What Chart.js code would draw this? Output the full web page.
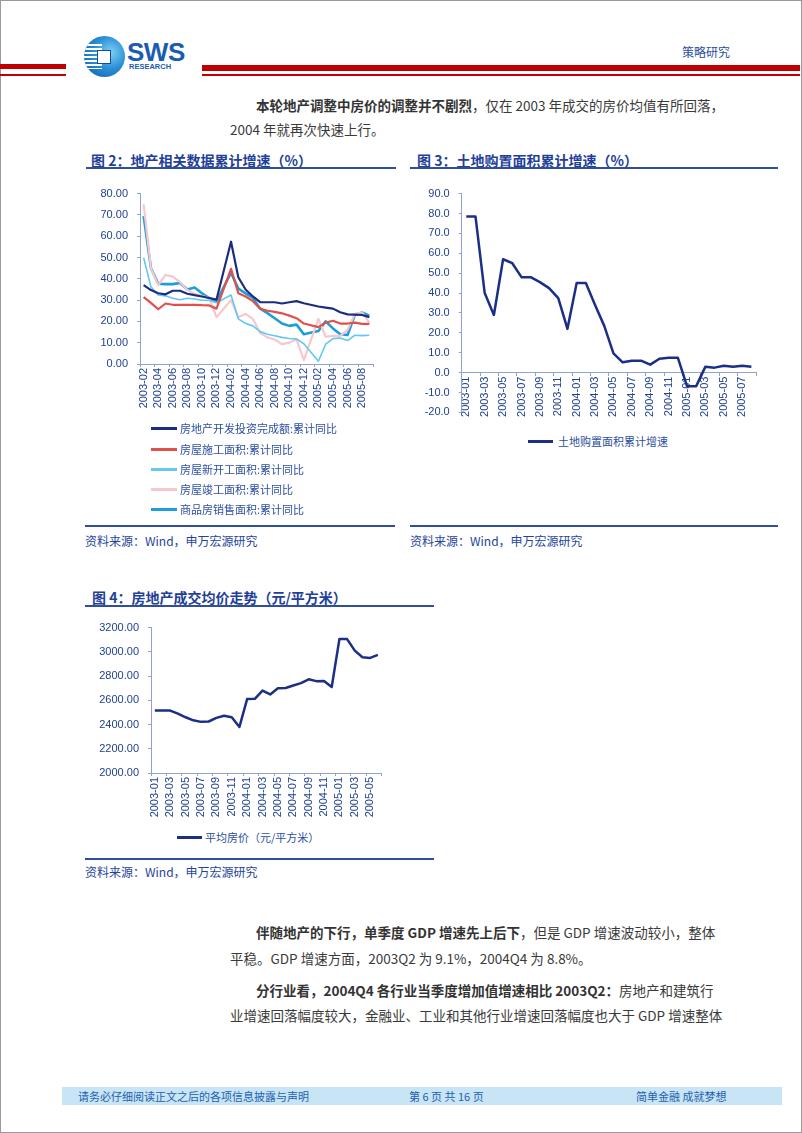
<!DOCTYPE html>
<html><head><meta charset="utf-8">
<script src="https://cdn.jsdelivr.net/npm/chart.js@4.4.0/dist/chart.umd.min.js"></script>
<style>
html,body{margin:0;padding:0}
body{width:802px;height:1133px;position:relative;background:#fff;overflow:hidden;font-family:"Noto Sans CJK SC","Noto Sans",sans-serif}
.t{position:absolute;white-space:nowrap;line-height:20px;height:20px}
.p{font-size:13.5px;color:#3a3a3a}
.p b{font-weight:bold;color:#333}
.ttl{font-size:14px;font-weight:bold;color:#1f3f99}
.rule{position:absolute;height:2px;background:#2e4f9f}
.src{font-size:12px;color:#24449a}
.lg{font-size:11px;color:#2c4fa0}
.lgl{position:absolute;height:2.5px}
canvas{position:absolute}
.foot{font-size:11px;color:#1f5fae}
</style></head><body>
<div style="position:absolute;left:0;top:0;width:800px;height:1131px;border:1px solid #9a9a9a"></div>

<!-- header -->
<div style="position:absolute;left:0;top:64px;width:66px;height:5px;background:#c00000"></div>
<div style="position:absolute;left:0;top:74px;width:66px;height:1.5px;background:#c00000"></div>
<div style="position:absolute;left:202px;top:65px;width:598px;height:6px;background:#c00000"></div>
<div style="position:absolute;left:202px;top:74px;width:598px;height:1.5px;background:#c00000"></div>
<div style="position:absolute;left:84px;top:36px;width:41px;height:41px;border-radius:50%;background:radial-gradient(circle at 65% 40%,#7fd0f5 0%,#2a8fd6 45%,#0b56a8 100%);overflow:hidden">
  <div style="position:absolute;left:0;top:8px;width:18px;height:25px;background:repeating-linear-gradient(to bottom,#fff 0 2px,transparent 2px 4px)"></div>
  <div style="position:absolute;left:13px;top:14px;width:12px;height:12px;background:#fff;border:1.5px solid #0b4f9e"></div>
</div>
<div class="t" style="left:127px;top:38px;font-family:'Liberation Sans',Arial,sans-serif;font-weight:bold;font-size:26px;line-height:28px;height:28px;color:#1a5cb0;letter-spacing:-0.5px">SWS</div>
<div class="t" style="left:129px;top:62px;font-family:'Liberation Sans',Arial,sans-serif;font-weight:bold;font-size:7.5px;line-height:10px;height:10px;color:#1a5cb0">RESEARCH</div>
<div class="t" style="left:682px;top:42px;font-size:12px;color:#2a4d9c">策略研究</div>

<div class="t p" style="left:256px;top:95px"><b>本轮地产调整中房价的调整并不剧烈</b>，仅在 2003 年成交的房价均值有所回落，</div>
<div class="t p" style="left:230px;top:119px">2004 年就再次快速上行。</div>

<!-- chart 2 -->
<div class="t ttl" style="left:91px;top:150px">图 2：地产相关数据累计增速（%）</div>
<div class="rule" style="left:86px;top:167px;width:310px"></div>
<canvas id="c2" width="300" height="245" style="left:85px;top:178px"></canvas>
<div id="lg2"></div>
<div class="rule" style="left:85px;top:525px;width:310px"></div>
<div class="t src" style="left:85px;top:531px">资料来源：Wind，申万宏源研究</div>

<!-- chart 3 -->
<div class="t ttl" style="left:417px;top:150px">图 3：土地购置面积累计增速（%）</div>
<div class="rule" style="left:410px;top:167px;width:368px"></div>
<canvas id="c3" width="370" height="250" style="left:410px;top:178px"></canvas>
<div class="lgl" style="left:528px;top:440px;width:25px;background:#1c2f85"></div>
<div class="t lg" style="left:558px;top:431px">土地购置面积累计增速</div>
<div class="rule" style="left:410px;top:525px;width:368px"></div>
<div class="t src" style="left:410px;top:531px">资料来源：Wind，申万宏源研究</div>

<!-- chart 4 -->
<div class="t ttl" style="left:92px;top:587px">图 4：房地产成交均价走势（元/平方米）</div>
<div class="rule" style="left:85px;top:605px;width:349px"></div>
<canvas id="c4" width="310" height="213" style="left:85px;top:612px"></canvas>
<div class="lgl" style="left:177px;top:836px;width:25px;background:#1c2f85"></div>
<div class="t lg" style="left:205px;top:827px">平均房价（元/平方米）</div>
<div class="rule" style="left:85px;top:858px;width:349px"></div>
<div class="t src" style="left:85px;top:862px">资料来源：Wind，申万宏源研究</div>

<div class="t p" style="left:256px;top:922px"><b>伴随地产的下行，单季度 GDP 增速先上后下</b>，但是 GDP 增速波动较小，整体</div>
<div class="t p" style="left:230px;top:948px">平稳。GDP 增速方面，2003Q2 为 9.1%，2004Q4 为 8.8%。</div>
<div class="t p" style="left:256px;top:980px"><b>分行业看，2004Q4 各行业当季度增加值增速相比 2003Q2：</b>房地产和建筑行</div>
<div class="t p" style="left:230px;top:1005px">业增速回落幅度较大，金融业、工业和其他行业增速回落幅度也大于 GDP 增速整体</div>

<div style="position:absolute;left:62px;top:1087px;width:720px;height:18px;background:#c8e5f6"></div>
<div class="t foot" style="left:78px;top:1086px">请务必仔细阅读正文之后的各项信息披露与声明</div>
<div class="t foot" style="left:409px;top:1086px">第 6 页 共 16 页</div>
<div class="t foot" style="left:636px;top:1086px">简单金融 成就梦想</div>

<script>
// ---------- data ----------
const months2 = ['2003-02','2003-03','2003-04','2003-05','2003-06','2003-07','2003-08','2003-09','2003-10','2003-11','2003-12',
  '2004-01','2004-02','2004-03','2004-04','2004-05','2004-06','2004-07','2004-08','2004-09','2004-10','2004-11','2004-12',
  '2005-01','2005-02','2005-03','2005-04','2005-05','2005-06','2005-07','2005-08','2005-09'];
const invest   = [37, 34.7, 33.2, 32.7, 34.4, 34.4, 33, 32.3, 31.7, 31, 30.2, null, 57.4, 40.7, 35, 31.7, 29, 29, 29, 28.4, 29, 29.5, 28.5, null, 27, 26.5, 26, 24.3, 23.3, 23.2, 23, 22];
const underCon = [31.4, 28.7, 25.7, 28.4, 27.8, 27.8, 27.8, 27.8, 27.6, 27.5, 26, null, 44.7, 33.2, 31.7, 29.5, 26, 25, 24.5, 23.8, 22.7, 21.5, 19, null, 17.3, 19.4, 20.3, 19, 19, 19.4, 18.8, 18.8];
const newStart = [49.9, 36.2, 32.4, 32, 30.9, 30.2, 30.9, 30.5, 29.9, 29.9, 28.7, null, 32.4, 21.2, 19, 17.9, 15.2, 14, 13.3, 12.5, 12, 11.8, 9.5, null, 1.3, 9.3, 11.9, 12.2, 11, 13.5, 13.3, 13.5];
const completed= [75, 45, 37, 41.8, 41, 38.4, 34.7, 33, 32, 31, 22, null, 30, 22, 23.5, 21.2, 14.5, 12.5, 11.5, 9.3, 10, 11.6, 1.8, null, 21.2, 12.8, 13.2, 13.2, 16, 23.5, 24.2, 19.4];
const sales    = [69.4, 45.1, 37.7, 37.5, 37.5, 38, 35, 35.9, 33.2, 31, 29.3, null, 42.9, 35.4, 33.2, 31, 26, 23.9, 21.5, 19, 17.9, 18.5, 14, null, 15.5, 20, 16.7, 14, 13.6, 23, 24.2, 22.7];
const names2 = ['房地产开发投资完成额:累计同比','房屋施工面积:累计同比','房屋新开工面积:累计同比','房屋竣工面积:累计同比','商品房销售面积:累计同比'];
const yTicks2 = [0, 80, 10];

const months3 = ['2003-01','2003-02','2003-03','2003-04','2003-05','2003-06','2003-07','2003-08','2003-09','2003-10','2003-11','2003-12',
  '2004-01','2004-02','2004-03','2004-04','2004-05','2004-06','2004-07','2004-08','2004-09','2004-10','2004-11','2004-12',
  '2005-01','2005-02','2005-03','2005-04','2005-05','2005-06','2005-07','2005-08'];
const landArea = [78.5, 78.5, 40, 29, 57, 55, 48, 48, 45.5, 42.5, 37.5, 22, 45, 45, 34, 23.5, 9.7, 5.2, 6, 6, 4, 7, 7.5, 7.5, -6.8, -6.8, 3, 2.5, 3.5, 3, 3.5, 3];
const name3 = '土地购置面积累计增速';
const yTicks3 = [-20, 90, 10];

const months4 = ['2003-01','2003-02','2003-03','2003-04','2003-05','2003-06','2003-07','2003-08','2003-09','2003-10','2003-11','2003-12',
  '2004-01','2004-02','2004-03','2004-04','2004-05','2004-06','2004-07','2004-08','2004-09','2004-10','2004-11','2004-12',
  '2005-01','2005-02','2005-03','2005-04','2005-05','2005-06'];
const avgPrice = [2515, 2515, 2515, 2490, 2460, 2435, 2422, 2425, 2455, 2472, 2460, 2380, 2610, 2612, 2680, 2648, 2700, 2702, 2722, 2742, 2773, 2758, 2760, 2710, 3105, 3105, 3010, 2955, 2950, 2975];
const name4 = '平均房价（元/平方米）';
const yTicks4 = [2000, 3200, 200];

// ---------- styles ----------
const colors2 = ['#1b2d7e', '#e2504b', '#63c8ef', '#f6c8cb', '#1d9edb'];
const widths2 = [2.2, 2.2, 1.6, 2.2, 2.6];
const navy = '#1c2f85';
const axisColor = '#8ea3d1';
const tickColor = '#22418f';
const numFont = {family: "'Liberation Sans', Arial, sans-serif", size: 11};

Chart.defaults.animation = false;
Chart.defaults.responsive = false;
Chart.defaults.devicePixelRatio = 1;

function xAxis(labels, h, extra) {
  return Object.assign({
    type: 'category', offset: true,
    grid: {display: true, offset: true, drawOnChartArea: false, tickLength: 3,
      color: c => (c.index === undefined || c.index % 2 === 0) ? axisColor : 'rgba(0,0,0,0)'},
    border: {color: axisColor, width: 1},
    ticks: {autoSkip: false, minRotation: 90, maxRotation: 90, padding: 1, color: tickColor, font: numFont,
      callback: (v, i) => i % 2 === 0 ? labels[i] : ''},
    afterFit: s => { if (h) s.height = h; }
  }, extra || {});
}
function yAxis(t, dec, w) {
  return {
    min: t[0], max: t[1],
    grid: {display: true, drawOnChartArea: false, tickLength: 3, color: axisColor},
    border: {color: axisColor, width: 1},
    ticks: {stepSize: t[2], padding: 9, color: tickColor, font: numFont, callback: v => Number(v).toFixed(dec)},
    afterFit: s => { s.width = w; }
  };
}
const baseOpts = (pad) => ({
  layout: {padding: pad},
  plugins: {legend: {display: false}, tooltip: {enabled: false}},
  elements: {point: {radius: 0}, line: {tension: 0, borderJoinStyle: 'round'}}
});

// chart 2
const series2 = [invest, underCon, newStart, completed, sales];
new Chart(document.getElementById('c2'), {
  type: 'line',
  data: {labels: months2, datasets: series2.map((d, i) => ({label: names2[i], data: d, borderColor: colors2[i], borderWidth: widths2[i], spanGaps: true, fill: false}))},
  options: Object.assign(baseOpts({top: 7.7, right: 12, left: 0, bottom: 0}), {
    scales: {x: xAxis(months2, 59), y: yAxis(yTicks2, 2, 55)}
  })
});
// legend 2 (html)
const lg2 = document.getElementById('lg2');
const rows2 = [428, 449, 469, 489, 509];
names2.forEach((n, i) => {
  const l = document.createElement('div'); l.className = 'lgl';
  l.style.cssText = `left:151px;top:${rows2[i]-1}px;width:26px;background:${colors2[i]}`;
  lg2.appendChild(l);
  const t = document.createElement('div'); t.className = 't lg';
  t.style.cssText = `left:180px;top:${rows2[i]-10}px`; t.textContent = n;
  lg2.appendChild(t);
});

// chart 3
new Chart(document.getElementById('c3'), {
  type: 'line',
  data: {labels: months3, datasets: [{label: name3, data: landArea, borderColor: navy, borderWidth: 2.5, fill: false}]},
  options: Object.assign(baseOpts({top: 11, right: 24, left: 0, bottom: 12}), {
    scales: {x: xAxis(months3, 0, {position: {y: 0}}), y: yAxis(yTicks3, 1, 51.7)}
  })
});

// chart 4
new Chart(document.getElementById('c4'), {
  type: 'line',
  data: {labels: months4, datasets: [{label: name4, data: avgPrice, borderColor: navy, borderWidth: 2.5, fill: false}]},
  options: Object.assign(baseOpts({top: 10.7, right: 13.3, left: 0, bottom: 0}), {
    scales: {x: xAxis(months4, 52), y: yAxis(yTicks4, 2, 66)}
  })
});
</script>
</body></html>
